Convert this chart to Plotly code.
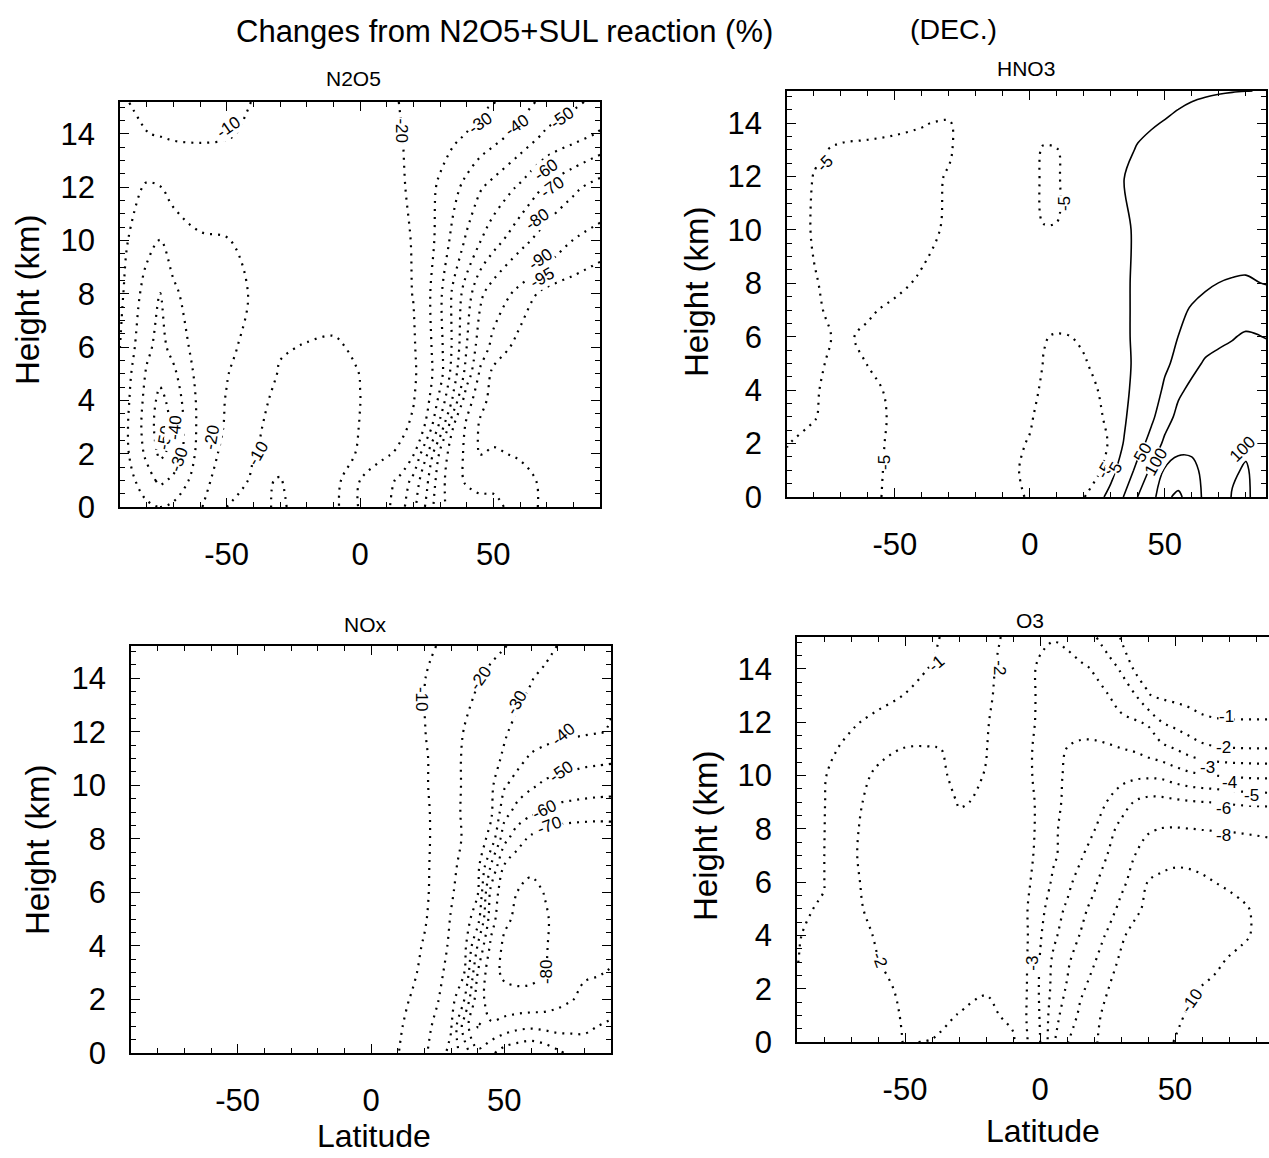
import plotly.graph_objects as go

FONT = "Liberation Sans, Arial, Helvetica, sans-serif"
W, H = 1269, 1158

X_TICKS = [-50, 0, 50]
X_TICK_TEXT = ["-50", "0", "50"]
Y_TICKS = [0, 2, 4, 6, 8, 10, 12, 14]
Y_TICK_TEXT = ["0", "2", "4", "6", "8", "10", "12", "14"]

# ---------------- N2O5 (% change) ----------------
N2O5_LAT = [-90, -80, -75, -70, -60, -50, -40, -30, -20, -10, 0, 10, 15, 20, 25, 30, 35, 40, 45, 50, 60, 70, 80, 90]
N2O5_HGT = [0, 1, 2, 3, 4, 5, 6, 8, 10, 12, 14, 15.2]
N2O5_PCT = [
    [-20, -28, -30, -28, -21, -10, -8, -11, -7, -7, -21, -28, -36, -47, -62, -78, -83, -86, -88, -88, -93, -96, -97, -97],
    [-22, -36, -42, -38, -24, -14, -9, -10.3, -6.5, -6, -20, -27, -32, -43, -58, -76, -87, -91, -92, -92, -93.5, -96, -97, -97],
    [-24, -42, -52, -47, -26, -17, -10.3, -8, -6, -5.5, -11, -19, -21.5, -29, -49, -72, -86, -91.5, -95.2, -94.5, -95.5, -97, -97.5, -97.5],
    [-24, -44, -55, -48, -27, -19, -11, -8, -6, -6, -10.2, -16, -18, -21.5, -32, -53, -80, -91.5, -95.5, -96.5, -97, -97.5, -98, -98],
    [-23, -43, -53, -46, -27, -19.5, -12, -8.5, -6.5, -6.5, -9.9, -15.5, -17, -19.5, -27, -43, -62, -87, -94, -96, -97, -98, -98, -98],
    [-22, -41, -47, -42, -26, -20.5, -14, -9.5, -8, -7.5, -10.1, -15.5, -17, -18.5, -25.5, -36, -55, -74, -91.5, -96, -97.5, -98.5, -98.5, -98.5],
    [-20, -38, -43, -37, -25, -22, -17, -10.5, -9.7, -9.2, -11, -16, -17.5, -19, -26, -37, -52, -70, -85, -92.5, -96.5, -98, -98.5, -98.5],
    [-18, -34, -40.5, -32, -23, -22, -19.5, -14, -13, -13, -14, -16.5, -18, -20.2, -27, -38, -52, -65, -78, -85, -92.5, -96.5, -97.5, -98],
    [-17, -27, -30.5, -25, -21, -20.5, -17, -15, -14, -14, -15, -16.5, -18, -20.5, -26, -33, -43, -51.5, -59.5, -66, -77, -84.5, -90.2, -93],
    [-15, -21, -20.3, -17, -15, -14, -14, -14, -14, -14.5, -16, -17, -18.8, -21.8, -26.5, -31.5, -37, -43, -49, -53, -61.5, -71.5, -78, -84],
    [-12, -10.2, -9.5, -9, -9, -9.5, -11, -13, -14, -15, -16, -18, -19.6, -21.7, -23.8, -25.8, -27.9, -30.2, -33, -36, -43, -51.5, -56, -61],
    [-11, -8, -7.5, -7, -7, -8, -10.2, -12, -14, -15, -16, -18, -20.2, -21.3, -22.7, -24, -25.4, -26.8, -28, -29.5, -36, -43, -48, -53],
]
N2O5_LEVELS = [-95, -90, -80, -70, -60, -50, -40, -30, -20, -10]
# contour labels: (level, latitude, height, text angle)
N2O5_LABELS = [
    (-10, -49.5, 14.26, -35), (-20, 15.7, 14.1, 90), (-30, 45, 14.4, -35), (-40, 58.9, 14.3, -35),
    (-50, 76.1, 14.6, -35), (-60, 70.1, 12.65, -35), (-70, 72, 12.0, -35), (-80, 66.4, 10.8, -35),
    (-90, 67.5, 9.3, -35), (-95, 68.6, 8.6, -30), (-50, -73, 2.6, -80), (-40, -69.5, 3.0, -85),
    (-30, -68, 1.8, -70), (-20, -55.5, 2.6, -80), (-10, -38.2, 2.0, -60),
]

# ---------------- HNO3 (% change) ----------------
HNO3_LAT = [-90, -80, -70, -60, -50, -40, -30, -20, -10, 0, 5, 10, 15, 20, 25, 30, 35, 40, 45, 50, 55, 60, 65, 70, 75, 80, 85, 90]
HNO3_HGT = [0, 1, 2, 3, 4, 5, 6, 7, 8, 10, 12, 13, 14, 15.2]
HNO3_PCT = [
    [-5.5, -6.2, -6.5, -6, -4, -4, -3, -2.5, -3, -5.5, -7, -7.5, -6.5, -5.2, -2, 12, 53, 101, 130, 190, 210, 175, 140, 120, 98, 96, 108, 110],
    [-5.3, -6, -6.3, -6, -4.2, -3.8, -3, -2.5, -3.5, -6, -7.5, -8, -7.5, -6.5, -6, -2, 17, 65, 108, 155, 168, 160, 140, 125, 104, 97, 110, 112],
    [-4.95, -5.5, -6, -5.8, -4.5, -3.5, -3, -2.5, -3.5, -5.3, -7.5, -8, -8, -7.5, -6.5, -4.5, 6, 30, 68, 110, 135, 140, 135, 128, 118, 106, 118, 120],
    [-4.2, -4.9, -5.8, -5.9, -4.6, -3.5, -3, -2.5, -3, -4.5, -6.5, -7.5, -7.5, -7, -6, -3.5, 3, 15, 40, 80, 112, 125, 128, 125, 122, 125, 130, 130],
    [-4, -4.8, -5.8, -5.6, -4.5, -3.5, -3, -2.5, -2.5, -3.5, -5.8, -7, -7, -6.5, -5.1, -2.5, 2, 10, 25, 58, 92, 110, 118, 120, 120, 122, 125, 125],
    [-3.8, -4.6, -5.6, -4.95, -4.3, -3.5, -3, -2.5, -2.5, -3, -5.1, -6.5, -6.5, -5.6, -3.5, -2, 2, 8, 20, 42, 62, 88, 105, 110, 112, 115, 118, 118],
    [-3.5, -4.3, -5.4, -4.6, -4, -3.5, -3, -2.5, -2.5, -2.5, -4.8, -5.3, -5.05, -4, -3, -1.5, 2, 9, 15, 30, 50.5, 68, 82, 92, 98, 104, 101, 96],
    [-3.5, -4.5, -6, -5.3, -4.5, -3.5, -3, -2.5, -2, -2, -2.5, -2.8, -2.5, -2, -1.5, -1, 3.5, 7, 12, 22, 38, 55, 68, 76, 80, 84, 84, 82],
    [-3.5, -4.8, -6, -6.3, -5.6, -4.6, -3.5, -2.5, -2, -2, -1.5, -1.5, -1.5, -1.5, -1, -0.5, 3.5, 7, 10, 15, 22, 32, 42, 50.5, 53, 54, 50.5, 46],
    [-3, -5.3, -6.5, -7, -6.8, -6, -4.5, -3, -2.5, -2.5, -4.9, -4.9, -2.5, -1.5, -1, 0, 3.5, 6.5, 8, 10, 12, 15, 18, 22, 25, 28, 30, 30],
    [-3, -5.1, -5.8, -6, -6, -5.8, -4.8, -3, -2, -3, -5.8, -5.6, -3, -1.5, -1, 1, 5.2, 8, 10, 12, 14, 16, 18, 20, 22, 24, 25, 25],
    [-2.5, -4.5, -5.5, -5.6, -5.6, -5.5, -5.3, -3, -2, -3, -5.5, -5.2, -3, -1.5, -1, 0.5, 3.5, 5.5, 6.5, 7.5, 8.5, 10, 12, 14, 16, 18, 20, 22],
    [-2, -3, -3.5, -4, -4.5, -4.9, -5.2, -3, -2, -2, -2.5, -2.5, -2, -1.5, -1, 0, 2, 3.5, 4.5, 5.3, 6.5, 8, 10, 12, 14, 16, 18, 20],
    [-2, -2.5, -3, -3, -3.5, -3.8, -3.5, -2.5, -2, -2, -2, -2, -1.8, -1.5, -1, -0.5, 0.5, 1.5, 2, 2.5, 3, 3.5, 3.8, 4.2, 4.6, 4.9, 5.1, 5.5],
]
HNO3_LEVELS = [-5, 5, 50, 100, 150, 200]
HNO3_LABELS = [
    (-5, -76, 12.5, -45), (-5, 12.6, 11.0, -90), (-5, -53.8, 1.3, -90), (-5, 27.7, 1.0, -60),
    (5, 31.9, 1.1, -60), (50, 42, 1.65, -60), (100, 46.6, 1.3, -60), (100, 78.8, 1.76, -45),
]

# ---------------- NOx (% change) ----------------
NOX_LAT = [-90, -80, -70, -60, -50, -40, -30, -20, -10, 0, 10, 15, 20, 25, 30, 35, 40, 45, 50, 55, 60, 65, 70, 75, 80, 85, 90]
NOX_HGT = [0, 1, 2, 3, 4, 5, 6, 7, 8, 9, 10, 11, 12, 14, 15.2]
NOX_PCT = [
    [-1.5, -1.8, -2.0, -2.3, -2.6, -2.9, -3.3, -3.8, -4.5, -6.5, -9.5, -15, -18.5, -25, -33, -45, -58, -52, -45, -42, -40, -43, -48, -52, -55, -53, -50],
    [-1.4, -1.7, -2.0, -2.2, -2.5, -2.8, -3.2, -3.7, -4.4, -6.0, -8.5, -12.5, -17, -22.5, -29, -55, -70.5, -69, -66, -63, -62, -63, -64, -63, -62, -60, -58],
    [-1.3, -1.6, -1.9, -2.1, -2.4, -2.7, -3.1, -3.6, -4.3, -5.5, -7, -10.5, -15, -19.5, -26, -40, -66, -74, -77, -78, -77.5, -76, -73, -70.5, -68, -67, -66],
    [-1.3, -1.5, -1.8, -2.1, -2.3, -2.6, -3.0, -3.5, -4.1, -5.0, -5.5, -8, -12.5, -17.5, -23.5, -30, -60, -77, -81.5, -82, -82, -80.5, -76, -73, -71, -70.5, -69.5],
    [-1.2, -1.5, -1.8, -2.0, -2.3, -2.6, -2.9, -3.4, -4.0, -4.6, -5, -7, -10.8, -16, -21.5, -27, -50.5, -72, -82, -83.5, -83.5, -81, -77, -75, -74, -73, -72],
    [-1.2, -1.4, -1.7, -2.0, -2.2, -2.5, -2.9, -3.3, -3.9, -4.4, -5, -6.5, -9, -14.5, -20.5, -25, -36, -66, -78, -82, -83, -81, -78, -76, -75, -74, -73],
    [-1.1, -1.4, -1.7, -1.9, -2.2, -2.5, -2.8, -3.2, -3.8, -4.3, -5, -6.5, -8.5, -13, -19, -24, -29, -63, -76, -80.2, -82, -79.8, -78, -77, -76, -75, -74],
    [-1.1, -1.3, -1.6, -1.9, -2.1, -2.4, -2.8, -3.2, -3.7, -4.2, -5, -6.5, -8.5, -12.5, -18, -22.5, -27, -50.5, -70.5, -76, -78.5, -79.5, -79, -78.5, -78, -77, -76],
    [-1.0, -1.3, -1.6, -1.8, -2.1, -2.4, -2.7, -3.1, -3.7, -4.3, -5.5, -7, -8.5, -12, -16.5, -21, -25, -33, -57, -66, -72, -75, -77, -78, -78.5, -78.5, -78],
    [-1.0, -1.2, -1.5, -1.8, -2.0, -2.3, -2.7, -3.1, -3.8, -4.4, -5.5, -7, -8.6, -12, -16.5, -21.5, -25, -28.5, -46, -54, -58, -61.5, -63.5, -64.5, -65, -65.5, -65.5],
    [-1.0, -1.2, -1.5, -1.7, -2.0, -2.3, -2.7, -3.2, -3.9, -4.6, -6, -7.5, -9, -12.5, -17, -21, -24.5, -28, -39, -44, -48.5, -51.5, -53, -54, -55, -55.5, -56],
    [-0.9, -1.1, -1.4, -1.7, -2.0, -2.3, -2.7, -3.2, -3.9, -4.7, -6, -7.5, -9, -12.5, -17, -21, -24.5, -27.5, -31, -37, -41.5, -44, -45.5, -46.5, -47.5, -48, -48.5],
    [-0.9, -1.1, -1.4, -1.6, -1.9, -2.3, -2.7, -3.2, -4.0, -4.8, -6, -8, -9.7, -13, -17, -20.3, -23.5, -26.5, -29.2, -32, -34, -35.5, -37, -38, -38.8, -39.5, -40.5],
    [-0.8, -1.0, -1.3, -1.6, -1.9, -2.2, -2.6, -3.1, -3.9, -4.8, -6, -8, -9.8, -12, -14.4, -17, -19.5, -22, -24.5, -27, -29.5, -32, -34, -35.5, -37, -38, -38.5],
    [-0.8, -1.0, -1.2, -1.5, -1.8, -2.1, -2.5, -3.0, -3.6, -4.2, -5, -7, -8.5, -10.2, -11.9, -13.8, -15.8, -17.7, -19.6, -22, -24.5, -27, -30.2, -32, -34, -36, -37],
]
NOX_LEVELS = [-80, -70, -60, -50, -40, -30, -20, -10]
NOX_LABELS = [
    (-10, 19, 13.2, 90), (-20, 40.9, 14.0, -55), (-30, 54.6, 13.1, -60), (-40, 72, 11.9, -40),
    (-50, 71.5, 10.5, -35), (-60, 65.2, 9.1, -25), (-70, 67, 8.5, -20), (-80, 65.9, 3.05, -90),
]

# ---------------- O3 (% change) ----------------
O3_LAT = [-90, -80, -70, -60, -50, -40, -30, -20, -10, -5, 0, 5, 10, 15, 20, 25, 30, 35, 40, 45, 50, 55, 60, 65, 70, 75, 80, 85, 90]
O3_HGT = [0, 1, 2, 3, 4, 5, 6, 7, 8, 9, 10, 11, 12, 13, 14, 15.2]
O3_PCT = [
    [-1.15, -1.4, -1.6, -1.8, -2.02, -1.98, -1.8, -1.7, -1.9, -2.9, -3.98, -5.8, -7.9, -9.0, -9.9, -10.3, -10.4, -10.4, -10.3, -10.15, -9.98, -9.8, -9.6, -9.4, -9.3, -9.2, -9.1, -9.0, -8.9],
    [-1.1, -1.35, -1.6, -1.8, -2.05, -2.15, -1.98, -1.85, -2.15, -3.02, -4.05, -5.6, -6.5, -8.5, -9.6, -10.4, -10.6, -10.7, -10.6, -10.4, -10.2, -9.9, -9.6, -9.4, -9.3, -9.1, -9.0, -8.9, -8.8],
    [-1.05, -1.3, -1.55, -1.8, -2.15, -2.3, -2.2, -2.05, -2.3, -2.97, -4.1, -5.3, -6.1, -7.6, -8.8, -9.95, -10.6, -10.9, -11.0, -10.9, -10.6, -10.2, -9.9, -9.6, -9.4, -9.2, -9.0, -8.9, -8.9],
    [-0.99, -1.2, -1.5, -1.98, -2.3, -2.5, -2.5, -2.45, -2.5, -2.95, -4.05, -5.2, -5.8, -6.7, -7.9, -9.0, -10.4, -11.0, -11.3, -11.4, -11.3, -11.0, -10.7, -10.3, -9.8, -9.5, -9.3, -9.2, -9.1],
    [-0.98, -1.1, -1.6, -2.1, -2.55, -2.7, -2.7, -2.65, -2.6, -2.9, -3.9, -4.8, -5.5, -6.05, -7.2, -8.2, -9.6, -10.8, -11.3, -11.6, -11.8, -11.7, -11.5, -11.1, -10.7, -10.25, -9.8, -9.6, -9.5],
    [-0.97, -1.02, -1.75, -2.3, -2.65, -2.75, -2.65, -2.6, -2.7, -2.95, -3.6, -4.7, -5.1, -5.7, -6.3, -7.3, -8.4, -9.4, -10.6, -11.0, -11.2, -11.2, -11.1, -10.9, -10.6, -10.2, -9.8, -9.6, -9.5],
    [-0.95, -0.99, -1.8, -2.4, -2.7, -2.75, -2.6, -2.55, -2.7, -2.9, -3.25, -4.2, -4.8, -5.3, -5.8, -6.6, -7.6, -8.6, -10.05, -10.4, -10.6, -10.5, -10.3, -9.98, -9.7, -9.5, -9.4, -9.35, -9.3],
    [-0.95, -0.99, -1.85, -2.5, -2.75, -2.7, -2.5, -2.45, -2.65, -2.85, -3.15, -3.85, -4.4, -4.9, -5.4, -6.02, -7.0, -7.98, -8.8, -9.3, -9.5, -9.5, -9.3, -9.1, -8.9, -8.7, -8.6, -8.5, -8.4],
    [-0.9, -0.98, -1.8, -2.5, -2.7, -2.6, -2.2, -2.15, -2.6, -2.85, -3.1, -3.85, -4.3, -4.7, -4.95, -5.6, -6.3, -7.0, -7.8, -8.05, -8.1, -8.02, -7.95, -7.9, -7.88, -7.85, -7.8, -7.75, -7.7],
    [-0.85, -0.97, -1.7, -2.4, -2.6, -2.5, -1.95, -2.08, -2.6, -2.85, -3.1, -3.8, -4.15, -4.5, -4.8, -5.02, -5.5, -6.05, -6.3, -6.3, -6.2, -6.1, -6.03, -5.97, -5.85, -5.75, -5.7, -5.65, -5.6],
    [-0.8, -0.95, -1.5, -2.2, -2.4, -2.2, -1.85, -2.02, -2.5, -2.85, -3.2, -3.8, -4.1, -4.4, -4.5, -4.6, -4.7, -4.8, -4.85, -4.8, -4.5, -4.25, -4.1, -4.0, -3.9, -3.85, -3.8, -3.8, -3.8],
    [-0.7, -0.9, -1.1, -1.7, -2.05, -2.05, -1.9, -1.98, -2.5, -2.85, -3.2, -3.7, -4.02, -4.2, -4.25, -4.15, -4.02, -3.9, -3.6, -3.3, -3.0, -2.6, -2.25, -2.1, -2.05, -2.03, -2.02, -2.02, -2.02],
    [-0.6, -0.75, -0.95, -1.1, -1.25, -1.45, -1.65, -1.95, -2.4, -2.75, -3.15, -3.5, -3.7, -3.6, -3.5, -3.4, -3.25, -3.1, -2.9, -2.02, -1.7, -1.4, -1.15, -1.08, -1.05, -1.05, -1.05, -1.05, -1.05],
    [-0.5, -0.6, -0.75, -0.88, -1.01, -1.2, -1.5, -1.9, -2.3, -2.7, -3.15, -3.4, -3.5, -3.4, -3.2, -3.05, -2.55, -2.1, -1.05, -0.85, -0.75, -0.7, -0.65, -0.6, -0.6, -0.6, -0.6, -0.6, -0.6],
    [-0.5, -0.6, -0.7, -0.8, -0.9, -1.02, -1.4, -1.9, -2.2, -2.7, -3.15, -3.3, -3.3, -3.15, -2.95, -2.45, -1.9, -0.9, -0.75, -0.65, -0.6, -0.55, -0.5, -0.5, -0.45, -0.45, -0.5, -0.5, -0.5],
    [-0.4, -0.5, -0.6, -0.7, -0.8, -0.92, -1.2, -1.7, -2.25, -2.55, -2.8, -2.95, -2.8, -2.5, -2.1, -1.5, -0.95, -0.8, -0.7, -0.6, -0.55, -0.5, -0.5, -0.45, -0.4, -0.4, -0.4, -0.4, -0.4],
]
O3_LEVELS = [-10, -8, -6, -5, -4, -3, -2, -1]
O3_LABELS = [
    (-1, -38.3, 14.2, -40), (-2, -14.8, 14.06, 90), (-1, 69.1, 12.2, 0), (-2, 67.8, 11.06, 0),
    (-3, 62.0, 10.3, 0), (-4, 70.0, 9.75, 0), (-5, 78.5, 9.25, 0), (-6, 68.0, 8.75, 0),
    (-8, 67.8, 7.75, 0), (-2, -59.3, 3.07, 70), (-3, -3.1, 2.96, -90), (-10, 56.2, 1.57, -55),
]


def px_x(x0, x1):
    return [x0 / W, x1 / W]


def px_y(top, bottom):
    return [1 - bottom / H, 1 - top / H]


# panel boxes in pixels (left, right, top, bottom), latitude ranges and title spots
PANELS = [
    dict(name="N2O5", lat=N2O5_LAT, hgt=N2O5_HGT, z=N2O5_PCT, levels=N2O5_LEVELS, labels=N2O5_LABELS,
         box=(120, 600, 102, 507), xr=[-90, 90], title_xy=(353, 79), ytitle_xy=(27, 300), xtitle_xy=None),
    dict(name="HNO3", lat=HNO3_LAT, hgt=HNO3_HGT, z=HNO3_PCT, levels=HNO3_LEVELS, labels=HNO3_LABELS,
         box=(787, 1266, 91, 497), xr=[-90, 87.5], title_xy=(1026, 69), ytitle_xy=(697, 292), xtitle_xy=None),
    dict(name="NOx", lat=NOX_LAT, hgt=NOX_HGT, z=NOX_PCT, levels=NOX_LEVELS, labels=NOX_LABELS,
         box=(131, 611, 646, 1053), xr=[-90, 90], title_xy=(365, 624), ytitle_xy=(37, 850), xtitle_xy=(374, 1136)),
    dict(name="O3", lat=O3_LAT, hgt=O3_HGT, z=O3_PCT, levels=O3_LEVELS, labels=O3_LABELS,
         box=(797, 1269, 637, 1042), xr=[-90, 84.8], title_xy=(1030, 620), ytitle_xy=(705, 836), xtitle_xy=(1043, 1131)),
]

fig = go.Figure()
layout = dict(
    width=W, height=H, margin=dict(l=0, r=0, t=0, b=0, autoexpand=False),
    paper_bgcolor="white", plot_bgcolor="white", showlegend=False,
    font=dict(family=FONT, color="black"),
)
annotations = []


def paper_text(text, x, y, size, angle=0):
    return dict(text=text, x=x / W, y=1 - y / H, xref="paper", yref="paper", showarrow=False,
                font=dict(family=FONT, size=size, color="black"), textangle=angle,
                xanchor="center", yanchor="middle")


for i, p in enumerate(PANELS, start=1):
    xa, ya = f"x{i}", f"y{i}"
    for lev in p["levels"]:
        fig.add_trace(go.Contour(
            x=p["lat"], y=p["hgt"], z=p["z"], xaxis=xa, yaxis=ya,
            autocontour=False,
            contours=dict(start=lev, end=lev, size=1, coloring="none", showlabels=False),
            line=dict(color="black", width=2.2 if lev < 0 else 1.6,
                      dash="2px,6px" if lev < 0 else "solid", smoothing=1.0),
            showscale=False, hoverinfo="skip",
        ))
    # level labels sitting on the contour lines
    for lev, lat, hgt, ang in p["labels"]:
        annotations.append(dict(text=str(lev), x=lat, y=hgt, xref=xa, yref=ya, showarrow=False,
                                textangle=ang, bgcolor="white", borderpad=0,
                                font=dict(family=FONT, size=17, color="black"),
                                xanchor="center", yanchor="middle"))
    l, r, t, b = p["box"]
    layout[f"xaxis{i}"] = dict(
        domain=px_x(l, r), anchor=ya, range=p["xr"], automargin=False,
        tickvals=X_TICKS, ticktext=X_TICK_TEXT,
        ticks="inside", ticklen=9, tickwidth=1.4, tickcolor="black",
        minor=dict(dtick=10, tick0=0, ticks="inside", ticklen=5, tickwidth=1.2, tickcolor="black"),
        showline=True, linecolor="black", linewidth=1.6, mirror="ticks",
        showgrid=False, zeroline=False,
        tickfont=dict(family=FONT, size=31, color="black"), ticklabelstandoff=19,
    )
    layout[f"yaxis{i}"] = dict(
        domain=px_y(t, b), anchor=xa, range=[0, 15.2], automargin=False,
        tickvals=Y_TICKS, ticktext=Y_TICK_TEXT,
        ticks="inside", ticklen=9, tickwidth=1.4, tickcolor="black",
        minor=dict(dtick=0.5, tick0=0, ticks="inside", ticklen=5, tickwidth=1.2, tickcolor="black"),
        showline=True, linecolor="black", linewidth=1.6,
        mirror=("ticks" if i != 4 else False),
        showgrid=False, zeroline=False,
        tickfont=dict(family=FONT, size=31, color="black"), ticklabelstandoff=17,
    )
    tx, ty = p["title_xy"]
    annotations.append(paper_text(p["name"], tx, ty, 21))
    yx, yy = p["ytitle_xy"]
    annotations.append(paper_text("Height (km)", yx, yy, 33, angle=-90))
    if p["xtitle_xy"]:
        lx, ly = p["xtitle_xy"]
        annotations.append(paper_text("Latitude", lx, ly, 32))

annotations.append(paper_text("Changes from N2O5+SUL reaction (%)", 504, 31, 31))
annotations.append(paper_text("(DEC.)", 953, 29, 28.5))
layout["annotations"] = annotations
fig.update_layout(**layout)
fig.write_html("out.html")
